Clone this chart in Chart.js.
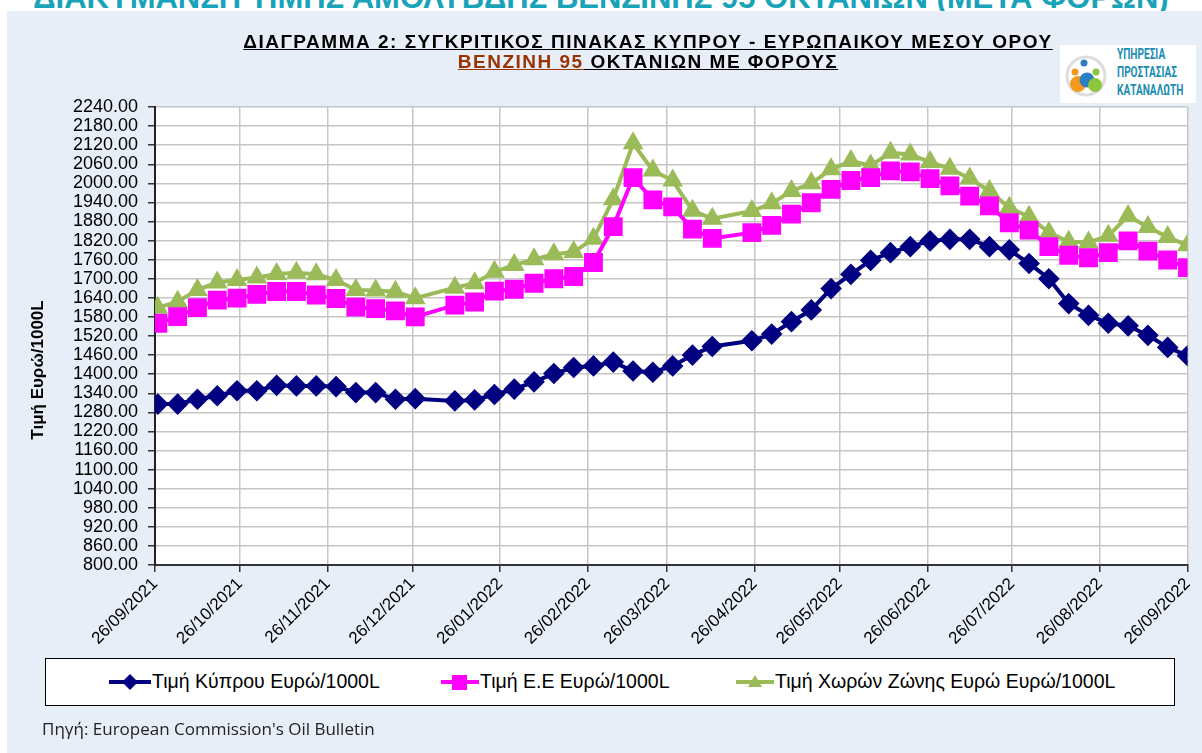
<!DOCTYPE html>
<html>
<head>
<meta charset="utf-8">
<script src="https://cdn.jsdelivr.net/npm/chart.js@4.4.0/dist/chart.umd.min.js"></script>
<style>
html,body{margin:0;padding:0;width:1202px;height:753px;overflow:hidden;background:#fff;font-family:"Liberation Sans",Arial,sans-serif;}
#banner{position:absolute;left:0;top:-20px;width:1202px;text-align:center;font:bold 31px "Liberation Sans",Arial;line-height:36px;color:#18a3b9;white-space:nowrap;}
#panel{position:absolute;left:7px;top:11px;width:1195px;height:742px;background:#e8eef7;}
#chart{position:absolute;left:0;top:0;}
#title{position:absolute;left:148px;top:32px;width:1000px;text-align:center;font:bold 19px "Liberation Sans",Arial;line-height:20px;letter-spacing:1.5px;color:#000;}
#title span{text-decoration:underline;}
#title .red{color:#993300;}
#logo{position:absolute;left:1060px;top:45px;width:136px;height:58px;background:#fff;}
#logo .txt{position:absolute;left:57px;top:0px;font:bold 14px Roboto;line-height:18px;color:#1a8db3;transform:scaleX(0.72);transform-origin:0 0;white-space:nowrap;}
#legend{position:absolute;left:45px;top:658px;width:1128px;height:46px;background:#fff;border:1.5px solid #000;}
.item{position:absolute;top:11px;font:19.5px "Liberation Sans",Arial;color:#000;display:flex;align-items:center;white-space:nowrap;}
#source{position:absolute;left:42px;top:717px;font:17px "Open Sans";color:#222;}
</style>
</head>
<body>
<div id="banner">ΔΙΑΚΥΜΑΝΣΗ ΤΙΜΗΣ ΑΜΟΛΥΒΔΗΣ ΒΕΝΖΙΝΗΣ 95 ΟΚΤΑΝΙΩΝ (ΜΕΤΑ ΦΟΡΩΝ)</div>
<div id="panel"></div>
<canvas id="chart" width="1202" height="753"></canvas>
<div id="title"><span>ΔΙΑΓΡΑΜΜΑ 2: ΣΥΓΚΡΙΤΙΚΟΣ ΠΙΝΑΚΑΣ ΚΥΠΡΟΥ - ΕΥΡΩΠΑΙΚΟΥ ΜΕΣΟΥ ΟΡΟΥ</span><br><span class="red">ΒΕΝΖΙΝΗ 95</span><span> ΟΚΤΑΝΙΩΝ ΜΕ ΦΟΡΟΥΣ</span></div>
<div id="logo">
  <svg width="56" height="58" style="position:absolute;left:2px;top:0">
    <circle cx="24" cy="31" r="19" fill="none" stroke="#ddd" stroke-width="3"/>
    <circle cx="16" cy="39" r="8" fill="#f39a1e"/>
    <circle cx="25" cy="35" r="7.5" fill="#2a7fc1"/>
    <circle cx="33" cy="40" r="7" fill="#8cc63f"/>
    <circle cx="22" cy="18" r="3.5" fill="#2a7fc1"/>
    <circle cx="13" cy="27" r="3.5" fill="#f39a1e"/>
    <circle cx="34" cy="27" r="3.5" fill="#8cc63f"/>
  </svg>
  <div class="txt">ΥΠΗΡΕΣΙΑ<br>ΠΡΟΣΤΑΣΙΑΣ<br>ΚΑΤΑΝΑΛΩΤΗ</div>
</div>
<div id="legend">
  <div class="item" style="left:62px"><svg width="44" height="20"><line x1="1" y1="10" x2="43" y2="10" stroke="#000080" stroke-width="4"/><path d="M22 2 L30 10 L22 18 L14 10 Z" fill="#000080"/></svg>Τιμή Κύπρου Ευρώ/1000L</div>
  <div class="item" style="left:394px"><svg width="40" height="20"><line x1="1" y1="10" x2="39" y2="10" stroke="#ff00ff" stroke-width="4"/><rect x="12" y="3" width="15" height="15" fill="#ff00ff"/></svg>Τιμή Ε.Ε Ευρώ/1000L</div>
  <div class="item" style="left:689px"><svg width="40" height="20"><line x1="1" y1="10" x2="39" y2="10" stroke="#9bbb59" stroke-width="4"/><path d="M20 3 L27 15 L13 15 Z" fill="#9bbb59"/></svg>Τιμή Χωρών Ζώνης Ευρώ Ευρώ/1000L</div>
</div>
<div id="source">Πηγή: European Commission's Oil Bulletin</div>
<script>
// weekly bulletin dates
const dates = [
  '27/09/2021','04/10/2021','11/10/2021','18/10/2021','25/10/2021','01/11/2021','08/11/2021','15/11/2021','22/11/2021','29/11/2021','06/12/2021','13/12/2021','20/12/2021','27/12/2021',
  '10/01/2022','17/01/2022','24/01/2022','31/01/2022','07/02/2022','14/02/2022','21/02/2022','28/02/2022','07/03/2022','14/03/2022','21/03/2022','28/03/2022','04/04/2022','11/04/2022',
  '25/04/2022','02/05/2022','09/05/2022','16/05/2022','23/05/2022','30/05/2022','06/06/2022','13/06/2022','20/06/2022','27/06/2022','04/07/2022','11/07/2022','18/07/2022','25/07/2022',
  '01/08/2022','08/08/2022','15/08/2022','22/08/2022','29/08/2022','05/09/2022','12/09/2022','19/09/2022','26/09/2022'
];
const cyprus = [1306,1306,1321,1332,1348,1348,1365,1363,1363,1361,1342,1342,1321,1323,
  1316,1319,1336,1353,1376,1402,1421,1426,1438,1410,1406,1426,1460,1487,
  1505,1526,1565,1602,1669,1714,1758,1782,1801,1819,1824,1824,1801,1791,
  1748,1700,1622,1585,1560,1552,1522,1484,1458];
const eu = [1560,1581,1609,1633,1639,1651,1660,1660,1649,1638,1611,1606,1599,1580,
  1617,1627,1661,1667,1686,1700,1707,1751,1864,2018,1948,1926,1856,1827,
  1845,1868,1903,1939,1981,2009,2018,2039,2036,2015,1992,1960,1929,1876,
  1853,1801,1774,1766,1782,1819,1787,1759,1735];
const euroZone = [1609,1628,1665,1688,1696,1704,1715,1719,1714,1696,1665,1663,1659,1639,
  1672,1686,1722,1743,1761,1777,1784,1826,1950,2126,2040,2009,1914,1889,
  1913,1937,1976,2000,2044,2070,2056,2096,2091,2067,2046,2015,1976,1923,
  1895,1845,1816,1814,1835,1897,1863,1831,1805];
const monthLabels = ['26/09/2021','26/10/2021','26/11/2021','26/12/2021','26/01/2022','26/02/2022',
  '26/03/2022','26/04/2022','26/05/2022','26/06/2022','26/07/2022','26/08/2022','26/09/2022'];

// days since 26/09/2021
function toDay(s){
  const [d,m,y] = s.split('/').map(Number);
  return Math.round((Date.UTC(y,m-1,d) - Date.UTC(2021,8,26)) / 864e5);
}
const monthDays = monthLabels.map(toDay);
const pts = arr => arr.map((v,i) => ({x: toDay(dates[i]), y: v}));

const chartBg = {
  id:'chartBg',
  beforeDraw(c){
    const a = c.chartArea, ctx = c.ctx;
    ctx.save();
    ctx.fillStyle = '#fff';
    ctx.fillRect(a.left, a.top, a.right-a.left, a.bottom-a.top);
    ctx.restore();
  },
  afterDraw(c){
    const ctx = c.ctx;
    ctx.save();
    ctx.translate(38, 370);
    ctx.rotate(-Math.PI/2);
    ctx.font = 'bold 17px "Liberation Sans", Arial';
    ctx.fillStyle = '#000';
    ctx.textAlign = 'center';
    ctx.textBaseline = 'middle';
    ctx.fillText('Τιμή Ευρώ/1000L', 0, 0);
    ctx.restore();
  }
};

new Chart(document.getElementById('chart'), {
  type:'line',
  data:{
    datasets:[
      {label:'Τιμή Κύπρου Ευρώ/1000L', data:pts(cyprus), borderColor:'#000080', backgroundColor:'#000080',
        borderWidth:4, pointStyle:'rectRot', pointRadius:8, tension:0},
      {label:'Τιμή Ε.Ε Ευρώ/1000L', data:pts(eu), borderColor:'#ff00ff', backgroundColor:'#ff00ff',
        borderWidth:4, pointStyle:'rect', pointRadius:10.5, tension:0},
      {label:'Τιμή Χωρών Ζώνης Ευρώ Ευρώ/1000L', data:pts(euroZone), borderColor:'#9bbb59', backgroundColor:'#9bbb59',
        borderWidth:4, pointStyle:'triangle', pointRadius:8, tension:0}
    ]
  },
  options:{
    responsive:false,
    devicePixelRatio:1,
    animation:false,
    layout:{padding:{top:107, right:12, bottom:0, left:0}},
    plugins:{legend:{display:false}, tooltip:{enabled:false}},
    scales:{
      x:{
        type:'linear', min:0, max:365,
        afterBuildTicks(s){ s.ticks = monthDays.map(v => ({value:v})); },
        afterFit(s){ s.height = 188; s.paddingLeft = 0; s.paddingRight = 0; },
        ticks:{
          autoSkip:false, minRotation:45, maxRotation:45, padding:2,
          color:'#000', font:{family:'"Liberation Sans", Arial', size:17},
          callback(v){ const i = monthDays.indexOf(v); return i >= 0 ? monthLabels[i] : ''; }
        },
        grid:{color:'#c6c6c6', lineWidth:1.5, tickColor:'#333', tickLength:7},
        border:{color:'#333', width:2}
      },
      y:{
        min:800, max:2240,
        afterFit(s){ s.width = 155; },
        ticks:{
          stepSize:60, autoSkip:false, padding:10, color:'#000',
          font:{family:'"Liberation Sans", Arial', size:18},
          callback(v){ return v.toFixed(2); }
        },
        grid:{color:'#c6c6c6', lineWidth:1.5, tickColor:'#333', tickLength:7},
        border:{color:'#222', width:2}
      }
    }
  },
  plugins:[chartBg]
});
</script>
</body>
</html>
